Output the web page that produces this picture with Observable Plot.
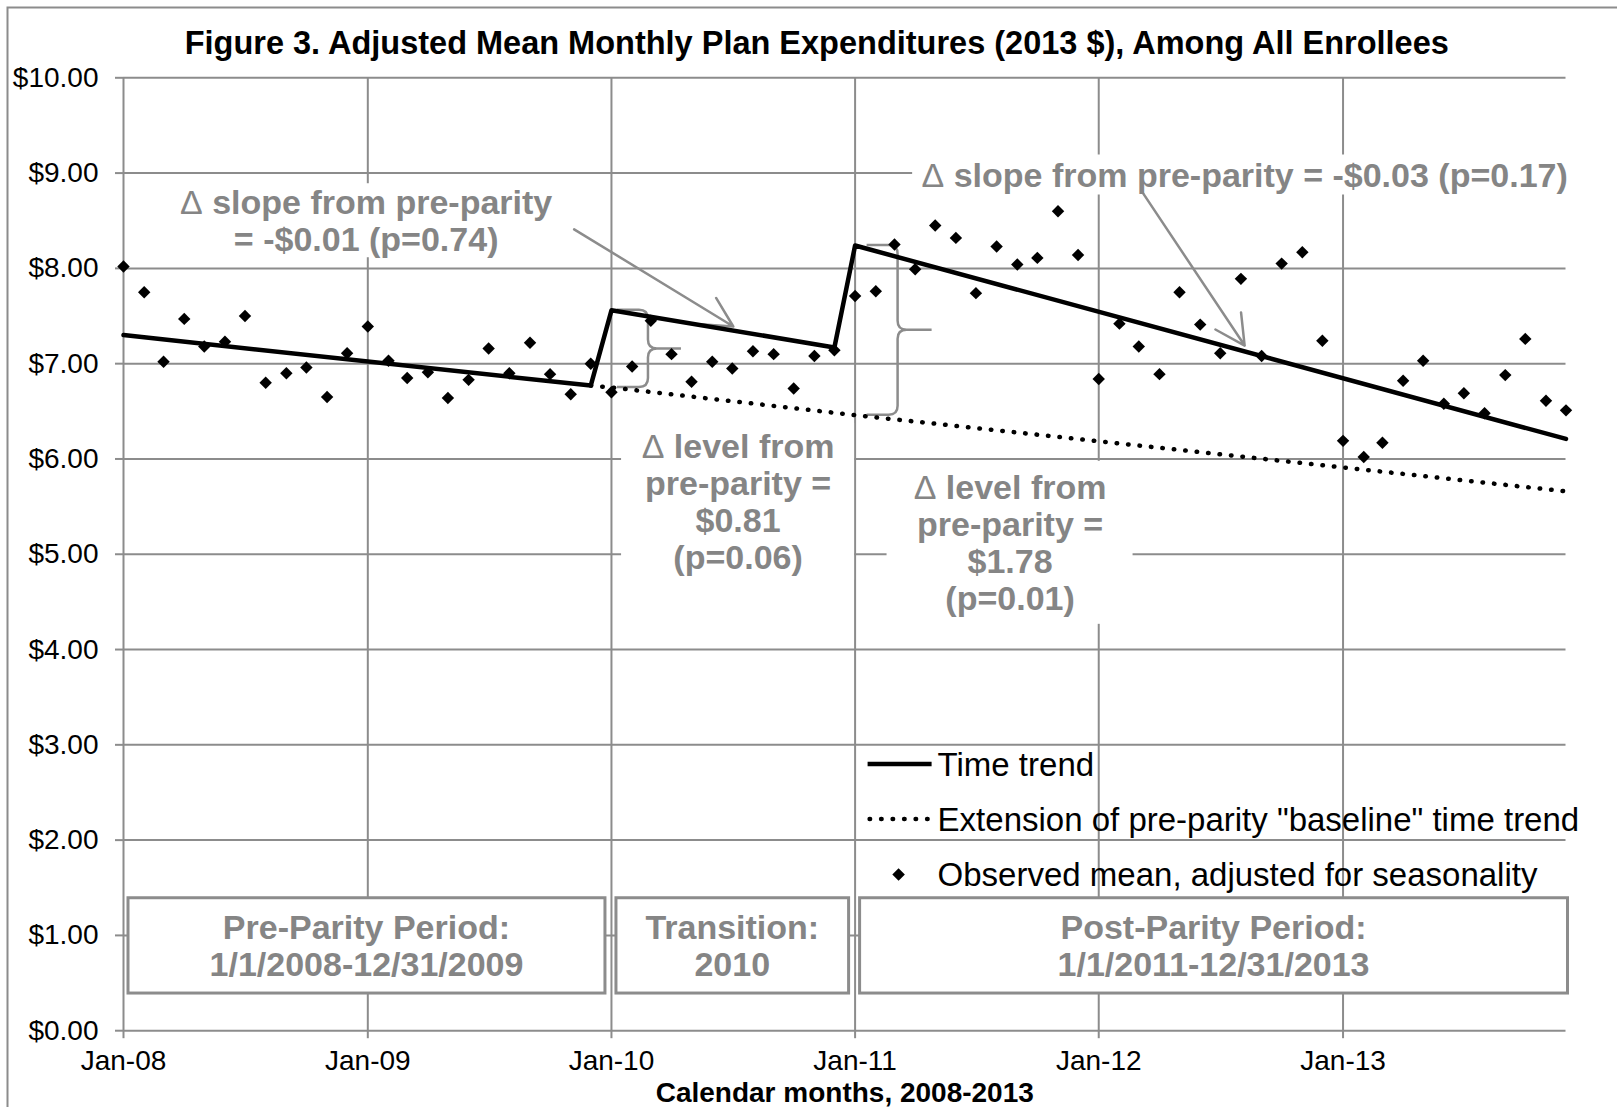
<!DOCTYPE html>
<html>
<head>
<meta charset="utf-8">
<script src="https://cdn.jsdelivr.net/npm/d3@7"></script>
<script src="https://cdn.jsdelivr.net/npm/@observablehq/plot@0.6"></script>
<style>
  html, body { margin: 0; padding: 0; background: #fff; }
  #chart { width: 1617px; height: 1107px; }
</style>
</head>
<body>
<div id="chart"></div>
<script>
// ---- Data -------------------------------------------------------------
// Observed monthly mean plan expenditure (2013 $), adjusted for seasonality,
// Jan 2008 through Dec 2013.
const observed = [
  8.02, 7.75, 7.02, 7.47, 7.18, 7.23, 7.50, 6.80, 6.90, 6.96, 6.65, 7.11,
  7.39, 7.03, 6.85, 6.91, 6.64, 6.83, 7.16, 6.90, 7.22, 6.89, 6.68, 7.00,
  6.70, 6.97, 7.45, 7.10, 6.81, 7.02, 6.95, 7.13, 7.10, 6.74, 7.08, 7.14,
  7.71, 7.76, 8.25, 7.99, 8.45, 8.32, 7.74, 8.23, 8.04, 8.11, 8.60, 8.14,
  6.84, 7.42, 7.18, 6.89, 7.75, 7.41, 7.11, 7.89, 7.08, 8.05, 8.17, 7.24,
  6.19, 6.02, 6.17, 6.82, 7.03, 6.58, 6.69, 6.48, 6.88, 7.26, 6.61, 6.51
];

// Fitted segmented time trend (month index, value at segment ends)
const trendMonths = [0, 23, 24, 35, 36, 71];
const trendValues = [7.30, 6.77, 7.56, 7.17, 8.24, 6.21];

// Pre-parity baseline trend carried forward
const baselineMonths = [23, 24, 36, 71];
const baselineValues = [6.77, 6.75, 6.46, 5.66];

// Estimated changes relative to the pre-parity period
const levelMonths = [24, 36];
const levelChange = [0.81, 1.78];
const levelP = ["0.06", "0.01"];
const slopeChange = [-0.01, -0.03];
const slopeP = ["0.74", "0.17"];

const yTicks = [0, 1, 2, 3, 4, 5, 6, 7, 8, 9, 10];

const periods = [
  {lines: ["Pre-Parity Period:", "1/1/2008-12/31/2009"], first: 0, last: 23},
  {lines: ["Transition:", "2010"], first: 24, last: 35},
  {lines: ["Post-Parity Period:", "1/1/2011-12/31/2013"], first: 36, last: 71}
];

const legendItems = ["Time trend", "Extension of pre-parity \"baseline\" time trend", "Observed mean, adjusted for seasonality"];

// ---- Helpers ----------------------------------------------------------
const start = new Date(Date.UTC(2008, 0, 1));
const months = d3.utcMonths(start, new Date(Date.UTC(2014, 0, 1)));
const yearTicks = d3.utcYears(start, new Date(Date.UTC(2014, 0, 1)));
// date for a (possibly fractional) month index
function at(m) {
  const i = Math.floor(m), f = m - i;
  const a = d3.utcMonth.offset(start, i), b = d3.utcMonth.offset(start, i + 1);
  return new Date(+a + f * (b - a));
}
const money = v => (v < 0 ? "-" : "") + "$" + Math.abs(v).toFixed(2);

const GRAY = "#8c8c8c";
const TEXT_GRAY = "#858585";
const FONT = "'Liberation Sans', Arial, Helvetica, sans-serif";

const points = observed.map((v, i) => ({date: months[i], value: v}));
const trend = trendMonths.map((m, i) => ({date: months[m], value: trendValues[i]}));
const baseline = baselineMonths.map((m, i) => ({date: months[m], value: baselineValues[i]}));
const braces = levelMonths.map((m, i) => ({
  date: months[m],
  lo: baselineValues[baselineMonths.indexOf(m)],
  hi: baselineValues[baselineMonths.indexOf(m)] + levelChange[i]
}));
const braceShape = [{x0: 6, xs: 37, xt: 70}, {x0: 12, xs: 43, xt: 77}];

// Text annotations with white backing boxes
const notes = [
  {x: at(11.92), y: 8.50, w: 388, h: 74,
   text: `Δ slope from pre-parity\n= ${money(slopeChange[0])} (p=${slopeP[0]})`},
  {x: at(55.18), y: 8.98, w: 664, h: 40,
   text: `Δ slope from pre-parity = ${money(slopeChange[1])} (p=${slopeP[1]})`},
  {x: at(30.28), y: 5.55, w: 233, h: 157,
   text: `Δ level from\npre-parity =\n${money(levelChange[0])}\n(p=${levelP[0]})`},
  {x: at(43.65), y: 5.12, w: 246, h: 163,
   text: `Δ level from\npre-parity =\n${money(levelChange[1])}\n(p=${levelP[1]})`}
];

const arrows = [
  {x1: at(22.17), y1: 8.41, x2: at(30.05), y2: 7.39},
  {x1: at(50.17), y1: 8.80, x2: at(55.18), y2: 7.19}
];

// ---- Custom render pieces --------------------------------------------
function frameBorder(index, scales, values, dims) {
  const g = d3.create("svg:g");
  g.append("path")
    .attr("d", `M7.5,${dims.height} V7.5 H${dims.width}`)
    .attr("fill", "none").attr("stroke", GRAY).attr("stroke-width", 2);
  return g.node();
}

function noteBoxes(index, {x, y}) {
  const g = d3.create("svg:g").attr("fill", "white");
  for (const n of notes) {
    g.append("rect")
      .attr("x", x(n.x) - n.w / 2).attr("y", y(n.y) - n.h / 2)
      .attr("width", n.w).attr("height", n.h);
  }
  return g.node();
}

function periodBoxes(index, {x, y}, values, dims) {
  const g = d3.create("svg:g");
  const top = y(1.39), bottom = y(0.39);
  for (const p of periods) {
    const left = x(months[p.first]) + 5;
    const right = p.last < months.length - 1 ? x(months[p.last + 1]) - 6 : x(months[p.last]) + 2;
    g.append("rect")
      .attr("x", left).attr("y", top).attr("width", right - left).attr("height", bottom - top)
      .attr("fill", "white").attr("stroke", GRAY).attr("stroke-width", 3);
    const cx = (left + right) / 2, cy = (top + bottom) / 2;
    p.lines.forEach((line, i) => {
      g.append("text")
        .attr("x", cx).attr("y", cy + (i - 0.5) * 37).attr("dy", "0.35em")
        .attr("text-anchor", "middle").attr("font-family", FONT)
        .attr("font-size", 34).attr("font-weight", "bold").attr("fill", TEXT_GRAY)
        .text(line);
    });
  }
  return g.node();
}

function braceMarks(index, {x, y}) {
  const g = d3.create("svg:g").attr("fill", "none").attr("stroke", GRAY)
    .attr("stroke-width", 2.5).attr("stroke-linejoin", "round");
  braces.forEach((b, i) => {
    const s = braceShape[i], bx = x(b.date);
    const x0 = bx + s.x0, xs = bx + s.xs, xt = bx + s.xt;
    const top = y(b.hi), bot = y(b.lo), mid = (top + bot) / 2, r = 9;
    g.append("path").attr("d",
      `M${x0},${top} L${xs - r},${top} Q${xs},${top} ${xs},${top + r} L${xs},${mid - r} ` +
      `Q${xs},${mid} ${xs + r},${mid} L${xt},${mid} M${xs + r},${mid} Q${xs},${mid} ${xs},${mid + r} ` +
      `L${xs},${bot - r} Q${xs},${bot} ${xs - r},${bot} L${x0},${bot}`);
  });
  return g.node();
}

function legendMark(index, {x, y}) {
  const g = d3.create("svg:g").attr("text-anchor", "start");
  const x0 = x(months[36]) + 13, x1 = x0 + 64, tx = x1 + 6;
  const rows = [y(2.793), y(2.216), y(1.633)];
  g.append("line").attr("x1", x0).attr("x2", x1).attr("y1", rows[0]).attr("y2", rows[0])
    .attr("stroke", "black").attr("stroke-width", 4.5);
  g.append("line").attr("x1", x0 + 2).attr("x2", x1).attr("y1", rows[1]).attr("y2", rows[1])
    .attr("stroke", "black").attr("stroke-width", 4.5)
    .attr("stroke-dasharray", "0.5 11").attr("stroke-linecap", "round");
  g.append("path").attr("d", d3.symbol(d3.symbolDiamond2, 100)())
    .attr("transform", `translate(${x0 + 31},${rows[2]})`).attr("fill", "black");
  legendItems.forEach((t, i) => {
    g.append("text").attr("x", tx).attr("y", rows[i]).attr("dy", "0.35em")
      .attr("text-anchor", "start")
      .attr("font-family", FONT).attr("font-size", 33).attr("fill", "black").text(t);
  });
  return g.node();
}

// ---- Chart ------------------------------------------------------------
const chart = Plot.plot({
  width: 1617,
  height: 1107,
  marginLeft: 123,
  marginRight: 51.5,
  marginTop: 77.3,
  marginBottom: 76.8,
  style: {fontFamily: FONT, fontSize: "28px", background: "white", overflow: "visible"},
  x: {type: "utc", domain: [months[0], months[months.length - 1]]},
  y: {domain: [0, 10]},
  marks: [
    frameBorder,
    Plot.gridY(yTicks, {stroke: GRAY, strokeOpacity: 1, strokeWidth: 2}),
    Plot.gridX(yearTicks, {stroke: GRAY, strokeOpacity: 1, strokeWidth: 2}),
    Plot.axisY(yTicks, {
      tickSize: 8, tickPadding: 17, tickFormat: d => "$" + d.toFixed(2),
      color: "black", stroke: GRAY, strokeWidth: 2, fontSize: 28, label: null
    }),
    Plot.axisX(yearTicks, {
      tickSize: 8, tickPadding: 11, tickFormat: d3.utcFormat("%b-%y"),
      color: "black", stroke: GRAY, strokeWidth: 2, fontSize: 28, label: null
    }),
    noteBoxes,
    periodBoxes,
    braceMarks,
    Plot.arrow(arrows, {
      x1: "x1", y1: "y1", x2: "x2", y2: "y2",
      stroke: GRAY, strokeWidth: 2.5, headLength: 20, headAngle: 55
    }),
    Plot.line(baseline, {
      x: "date", y: "value", stroke: "black", strokeWidth: 4.5,
      strokeDasharray: "0.5 11", strokeLinecap: "round"
    }),
    Plot.line(trend, {x: "date", y: "value", stroke: "black", strokeWidth: 4.5}),
    Plot.dot(points, {x: "date", y: "value", symbol: "diamond2", r: 5.6, fill: "black", stroke: null}),
    Plot.text(notes, {
      x: "x", y: "y", text: "text", lineAnchor: "middle", lineHeight: 1.09,
      fontSize: 34, fontWeight: "bold", fill: TEXT_GRAY
    }),
    Plot.text(["Figure 3. Adjusted Mean Monthly Plan Expenditures (2013 $), Among All Enrollees"], {
      frameAnchor: "top", dx: -28, dy: -34, lineAnchor: "middle",
      fontSize: 32.5, fontWeight: "bold", fill: "black"
    }),
    Plot.text(["Calendar months, 2008-2013"], {
      frameAnchor: "bottom", dy: 62, lineAnchor: "middle",
      fontSize: 28, fontWeight: "bold", fill: "black"
    }),
    legendMark
  ]
});

// The delta sign is set in a regular weight inside the bold annotations
const NS = "http://www.w3.org/2000/svg";
chart.querySelectorAll("text, tspan").forEach(el => {
  if (el.childNodes.length === 1 && el.firstChild.nodeType === 3 && el.firstChild.nodeValue.startsWith("Δ")) {
    const rest = el.firstChild.nodeValue.slice(1);
    el.textContent = "";
    const d = document.createElementNS(NS, "tspan");
    d.setAttribute("font-weight", "normal");
    d.textContent = "Δ";
    el.appendChild(d);
    el.appendChild(document.createTextNode(rest));
  }
});

document.getElementById("chart").appendChild(chart);
</script>
</body>
</html>
